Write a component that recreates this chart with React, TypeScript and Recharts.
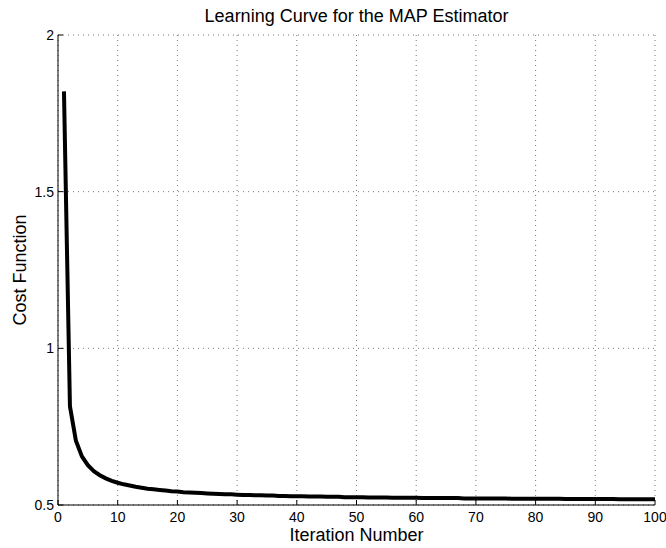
import { CartesianGrid, Label, Line, LineChart, XAxis, YAxis } from 'recharts';

const iterations = Array.from({ length: 100 }, (_, i) => i + 1);

const cost = [
  1.82, 0.815, 0.705, 0.655, 0.627, 0.608, 0.595, 0.585, 0.577, 0.571,
  0.566, 0.562, 0.558, 0.555, 0.552, 0.55, 0.548, 0.546, 0.544, 0.543,
  0.541, 0.54, 0.539, 0.538, 0.537, 0.536, 0.535, 0.534, 0.534, 0.533,
  0.532, 0.532, 0.531, 0.531, 0.53, 0.53, 0.529, 0.529, 0.528, 0.528,
  0.528, 0.527, 0.527, 0.527, 0.526, 0.526, 0.526, 0.525, 0.525, 0.525,
  0.525, 0.524, 0.524, 0.524, 0.524, 0.523, 0.523, 0.523, 0.523, 0.523,
  0.522, 0.522, 0.522, 0.522, 0.522, 0.522, 0.522, 0.521, 0.521, 0.521,
  0.521, 0.521, 0.521, 0.521, 0.521, 0.52, 0.52, 0.52, 0.52, 0.52,
  0.52, 0.52, 0.52, 0.52, 0.519, 0.519, 0.519, 0.519, 0.519, 0.519,
  0.519, 0.519, 0.519, 0.518, 0.518, 0.518, 0.518, 0.518, 0.518, 0.518,
];

const xTicks = [0, 10, 20, 30, 40, 50, 60, 70, 80, 90, 100];
const yTicks = [0.5, 1, 1.5, 2];

const data = iterations.map((it, i) => ({ it, cost: cost[i] }));

const FONT = '"Liberation Sans", Arial, sans-serif';

const XTick = ({ x, y, payload }: any) => (
  <g>
    <line x1={x} y1={y} x2={x} y2={y - 5} stroke="#000" />
    <text x={x} y={y + 17} textAnchor="middle" fontSize={14} fontFamily={FONT} fill="#000">
      {payload.value}
    </text>
  </g>
);

const YTick = ({ x, y, payload }: any) => (
  <g>
    <line x1={x} y1={y} x2={x + 5} y2={y} stroke="#000" />
    <text x={x - 4} y={y + 5} textAnchor="end" fontSize={14} fontFamily={FONT} fill="#000">
      {payload.value}
    </text>
  </g>
);

export default function App() {
  return (
    <div style={{ position: 'absolute', left: 0, top: 0, width: 666, height: 548, background: '#fff' }}>
      <div
        style={{
          position: 'absolute',
          left: 58,
          width: 597,
          top: 6,
          textAlign: 'center',
          fontFamily: FONT,
          fontSize: 18,
          color: '#000',
        }}
      >
        Learning Curve for the MAP Estimator
      </div>
      <LineChart width={666} height={548} data={data} margin={{ top: 35, right: 11, bottom: 0, left: 0 }}>
        <CartesianGrid stroke="#777" strokeDasharray="1 4" />
        <XAxis
          dataKey="it"
          type="number"
          domain={[0, 100]}
          ticks={xTicks}
          height={43}
          stroke="#000"
          tickSize={0}
          tickMargin={0}
          tick={<XTick />}
          interval={0}
        >
          <Label
            value="Iteration Number"
            position="insideBottom"
            offset={7}
            style={{ fontSize: 18, fontFamily: FONT, fill: '#000' }}
          />
        </XAxis>
        <YAxis
          type="number"
          domain={[0.5, 2]}
          ticks={yTicks}
          width={58}
          stroke="#000"
          tickSize={0}
          tickMargin={0}
          tick={<YTick />}
          interval={0}
        >
          <Label
            value="Cost Function"
            angle={-90}
            position="insideLeft"
            offset={20}
            style={{ fontSize: 18, fontFamily: FONT, fill: '#000', textAnchor: 'middle' }}
          />
        </YAxis>
        <Line
          dataKey="cost"
          type="linear"
          stroke="#000"
          strokeWidth={4}
          dot={false}
          isAnimationActive={false}
        />
      </LineChart>
    </div>
  );
}
